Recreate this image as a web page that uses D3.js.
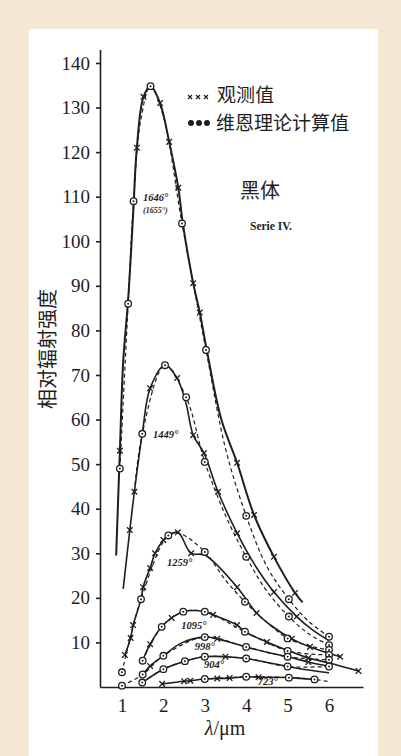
<!DOCTYPE html>
<html>
<head>
<meta charset="utf-8">
<script src="https://cdn.jsdelivr.net/npm/d3@7"></script>
<style>
  html, body { margin: 0; padding: 0; background: #f4e8d5; }
  svg { display: block; }
</style>
</head>
<body>
<svg id="chart" width="401" height="756"></svg>
<script>
// Temperatures of Series IV (Lummer-Pringsheim black body)
const tempLabels = ['1646°', '1449°', '1259°', '1095°', '998°', '904°', '723°'];

// Observed values (solid lines, x markers): [wavelength um, intensity]
const obs1646 = [[0.86,29.5],[0.95,53],[1.03,73],[1.15,87],[1.27,106],[1.36,121],[1.52,132.4],[1.69,134.8],[1.92,131],[2.14,122.3],[2.36,112],[2.47,104],[2.72,90.6],[2.88,84],[3.05,75.5],[3.4,60],[3.78,50.3],[4.19,38.6],[4.67,29.2],[5.18,21.1],[5.36,19]];
const obs1449 = [[1.03,22],[1.19,35.2],[1.3,43.8],[1.49,56.8],[1.68,67],[2.04,72.2],[2.33,69.3],[2.55,63.5],[2.72,56.5],[2.98,52.5],[3.32,43.8],[3.78,34.5],[4.2,27.5],[4.67,21.3],[5.22,15.8],[5.6,12.8],[6.0,10.4]];
const obs1259 = [[1.07,7.2],[1.21,11],[1.27,13.9],[1.46,19.7],[1.51,22.4],[1.68,26.7],[1.8,30],[2.0,33],[2.12,34],[2.35,34.7],[2.67,30],[3.0,29.6],[3.78,22.4],[4.25,16.6],[4.6,13.8],[5.1,10.8],[5.54,9],[6.27,6.8]];
const obs1095 = [[1.5,5.9],[1.68,9.6],[1.96,13.5],[2.2,15.5],[2.48,16.9],[3.0,16.9],[3.2,16.2],[3.78,13.9],[3.97,12.4],[4.5,10.1],[5.0,8.2],[5.5,6.5],[6.0,5.4],[6.71,3.6]];
const obs998  = [[1.5,2.8],[1.68,4.7],[2.0,7.0],[2.44,9.9],[3.0,11.2],[3.3,10.8],[4.0,9.0],[4.5,7.8],[5.0,6.8],[5.5,5.6],[6.0,4.6]];
const obs904  = [[1.49,1.0],[2.0,4.0],[2.52,5.8],[3.0,6.8],[3.5,6.8],[4.0,6.4],[4.5,5.5],[5.0,4.6],[5.5,3.8],[6.0,3.2]];
const obs723  = [[1.97,0.7],[2.5,1.3],[2.65,1.4],[3.0,1.8],[3.3,1.9],[3.6,2.0],[4.0,2.3],[4.3,2.2],[5.03,2.1],[5.65,1.7]];

// Wien computed values (dashed lines, circle markers)
const wien1646 = [[0.95,49],[1.15,86],[1.28,109],[1.45,127],[1.69,134.8],[2.0,128],[2.45,104],[3.03,75.6],[3.5,53.5],[4.0,38.4],[4.5,27],[5.03,19.7],[5.5,14.8],[6.0,11.3]];
const wien1449 = [[1.3,43.8],[1.49,56.8],[2.04,72.2],[2.55,65],[3.0,50.5],[3.5,38.5],[4.0,29.2],[4.5,21.5],[5.03,15.8],[5.5,12],[6.0,9.4]];
const wien1259 = [[1.0,3.3],[1.46,19.7],[2.12,34],[2.4,34.4],[3.0,30.3],[3.5,24],[3.97,19.1],[4.5,14.5],[5.0,10.9],[5.5,9.3],[6.0,8.3]];
const wien1095 = [[1.5,5.9],[1.96,13.5],[2.48,16.9],[3.0,16.9],[3.97,12.4],[5.0,8.1],[6.0,7.2]];
const wien998  = [[1.0,0.3],[1.5,2.8],[2.0,7.0],[3.0,11.2],[4.0,9.0],[5.0,6.8],[6.0,6.1]];
const wien904  = [[1.49,1.0],[2.0,4.0],[2.52,5.8],[3.0,6.8],[4.0,6.4],[5.0,4.6],[6.0,4.6]];
const wien723  = [[3.0,1.8],[4.0,2.3],[5.03,2.1],[5.65,1.7],[6.0,1.2]];

// which observed points carry a x marker
const obsMarks = [
  [0.95,1.36,1.52,1.92,2.14,2.36,2.72,2.88,3.78,4.19,4.67,5.18],
  [1.19,1.3,1.68,2.33,2.72,2.98,3.32,3.78,4.67,5.22],
  [1.07,1.21,1.27,1.51,1.68,1.8,2.0,2.35,2.67,3.78,4.25,5.1,5.54,6.27],
  [1.68,2.2,3.2,3.78,4.5,5.5,6.71],
  [1.68,3.3,5.5],
  [3.5],
  [1.97,2.5,2.65,3.3,3.6,4.3]
];

// which computed points carry a circle marker
const compMarks = [
  [0.95,1.15,1.28,1.69,2.45,3.03,4.0,5.03,6.0],
  [1.49,2.04,2.55,3.0,4.0,5.03,6.0],
  [1.0,1.46,2.12,3.0,3.97,5.0,6.0],
  [1.5,1.96,2.48,3.0,3.97,5.0,6.0],
  [1.0,1.5,2.0,3.0,4.0,5.0,6.0],
  [1.49,2.0,2.52,3.0,4.0,5.0,6.0],
  [3.0,4.0,5.03,5.65]
];

const observed = [obs1646, obs1449, obs1259, obs1095, obs998, obs904, obs723];
const computed = [wien1646, wien1449, wien1259, wien1095, wien998, wien904, wien723];

const yTicks = [10,20,30,40,50,60,70,80,90,100,110,120,130,140];
const xTicks = [1,2,3,4,5,6];

// label anchors for the temperatures, in data units
const labelPos = [[1.51,109],[1.75,55.9],[2.09,27.1],[2.43,13.0],[2.76,8.3],[2.98,4.3],[4.28,0.5]];

const svg = d3.select('#chart');
const ink = '#1e1e1e';

// white panel on the beige frame
svg.append('rect').attr('x', 29).attr('y', 29).attr('width', 349).attr('height', 740).attr('fill', '#ffffff');

const x = d3.scaleLinear().domain([0.47, 6.82]).range([100, 363]);
const y = d3.scaleLinear().domain([0, 143]).range([687, 49.6]);

// Axes
const yAxis = svg.append('g')
    .attr('transform', 'translate(' + x(0.47) + ',0)')
    .call(d3.axisLeft(y).tickValues(yTicks).tickSize(4).tickSizeOuter(0).tickPadding(6));
const xAxis = svg.append('g')
    .attr('transform', 'translate(0,' + y(0) + ')')
    .call(d3.axisBottom(x).tickValues(xTicks).tickSize(0).tickSizeOuter(0).tickPadding(12).tickFormat(d3.format('d')));

[yAxis, xAxis].forEach(g => {
    g.selectAll('path, line').attr('stroke', ink).attr('stroke-width', 1.6);
    g.selectAll('text')
        .attr('font-family', '"Liberation Serif", "DejaVu Serif", serif')
        .attr('font-size', 19)
        .attr('fill', ink);
});

// axis titles
svg.append('text')
    .attr('transform', 'translate(55,349) rotate(-90)')
    .attr('text-anchor', 'middle')
    .attr('font-family', '"Noto Sans CJK SC", sans-serif')
    .attr('font-size', 20)
    .attr('fill', ink)
    .text('相对辐射强度');

const xl = svg.append('text')
    .attr('x', 225).attr('y', 735)
    .attr('text-anchor', 'middle')
    .attr('font-family', '"Liberation Serif", serif')
    .attr('font-size', 20)
    .attr('fill', ink);
xl.append('tspan').attr('font-style', 'italic').text('λ');
xl.append('tspan').text('/μm');

// curves
const line = d3.line()
    .x(d => x(d[0]))
    .y(d => y(d[1]))
    .curve(d3.curveCatmullRom.alpha(0.5));

const plot = svg.append('g');

computed.forEach(series => {
    plot.append('path')
        .datum(series)
        .attr('d', line)
        .attr('fill', 'none')
        .attr('stroke', ink)
        .attr('stroke-width', 1.2)
        .attr('stroke-dasharray', '4,3');
});

observed.forEach((series, i) => {
    plot.append('path')
        .datum(series)
        .attr('d', line)
        .attr('fill', 'none')
        .attr('stroke', ink)
        .attr('stroke-width', i === 0 ? 2 : 1.6);
});

// circle markers for computed points
computed.forEach((series, i) => {
    const g = plot.append('g');
    series.filter(d => compMarks[i].includes(d[0])).forEach(d => {
        g.append('circle')
            .attr('cx', x(d[0])).attr('cy', y(d[1])).attr('r', 3.3)
            .attr('fill', '#fff').attr('stroke', ink).attr('stroke-width', 1.3);
        g.append('circle')
            .attr('cx', x(d[0])).attr('cy', y(d[1])).attr('r', 1)
            .attr('fill', ink);
    });
});

// x markers for observed points
const cross = 'M-2.8,-2.8L2.8,2.8M-2.8,2.8L2.8,-2.8';
observed.forEach((series, i) => {
    series.filter(d => obsMarks[i].includes(d[0])).forEach(d => {
        plot.append('path')
            .attr('d', cross)
            .attr('transform', 'translate(' + x(d[0]) + ',' + y(d[1]) + ')')
            .attr('stroke', ink).attr('stroke-width', 1.3);
    });
});

// temperature labels
const lbl = svg.append('g')
    .attr('font-family', '"Liberation Serif", serif')
    .attr('font-style', 'italic')
    .attr('font-weight', 'bold')
    .attr('font-size', 10.5)
    .attr('fill', ink);
tempLabels.forEach((t, i) => {
    lbl.append('text')
        .attr('x', x(labelPos[i][0])).attr('y', y(labelPos[i][1]))
        .text(t);
});
lbl.append('text')
    .attr('x', x(1.51)).attr('y', y(106.4))
    .attr('font-size', 8)
    .text('(1655°)');

// legend
const legend = svg.append('g');
[190, 198, 206].forEach(cx => {
    legend.append('path')
        .attr('d', 'M-2,-2L2,2M-2,2L2,-2')
        .attr('transform', 'translate(' + cx + ',97)')
        .attr('stroke', ink).attr('stroke-width', 1.1);
    legend.append('circle')
        .attr('cx', cx + 1).attr('cy', 123).attr('r', 3)
        .attr('fill', ink);
});
legend.append('text')
    .attr('x', 217).attr('y', 102)
    .attr('font-family', '"Noto Sans CJK SC", sans-serif')
    .attr('font-size', 19).attr('fill', ink)
    .text('观测值');
legend.append('text')
    .attr('x', 216).attr('y', 130)
    .attr('font-family', '"Noto Sans CJK SC", sans-serif')
    .attr('font-size', 19).attr('fill', ink)
    .text('维恩理论计算值');

svg.append('text')
    .attr('x', 240).attr('y', 198)
    .attr('font-family', '"Noto Sans CJK SC", sans-serif')
    .attr('font-size', 20).attr('fill', ink)
    .text('黑体');

svg.append('text')
    .attr('x', 250).attr('y', 230)
    .attr('font-family', '"Liberation Serif", serif')
    .attr('font-weight', 'bold')
    .attr('font-size', 11.5).attr('fill', ink)
    .text('Serie IV.');
</script>
</body>
</html>
